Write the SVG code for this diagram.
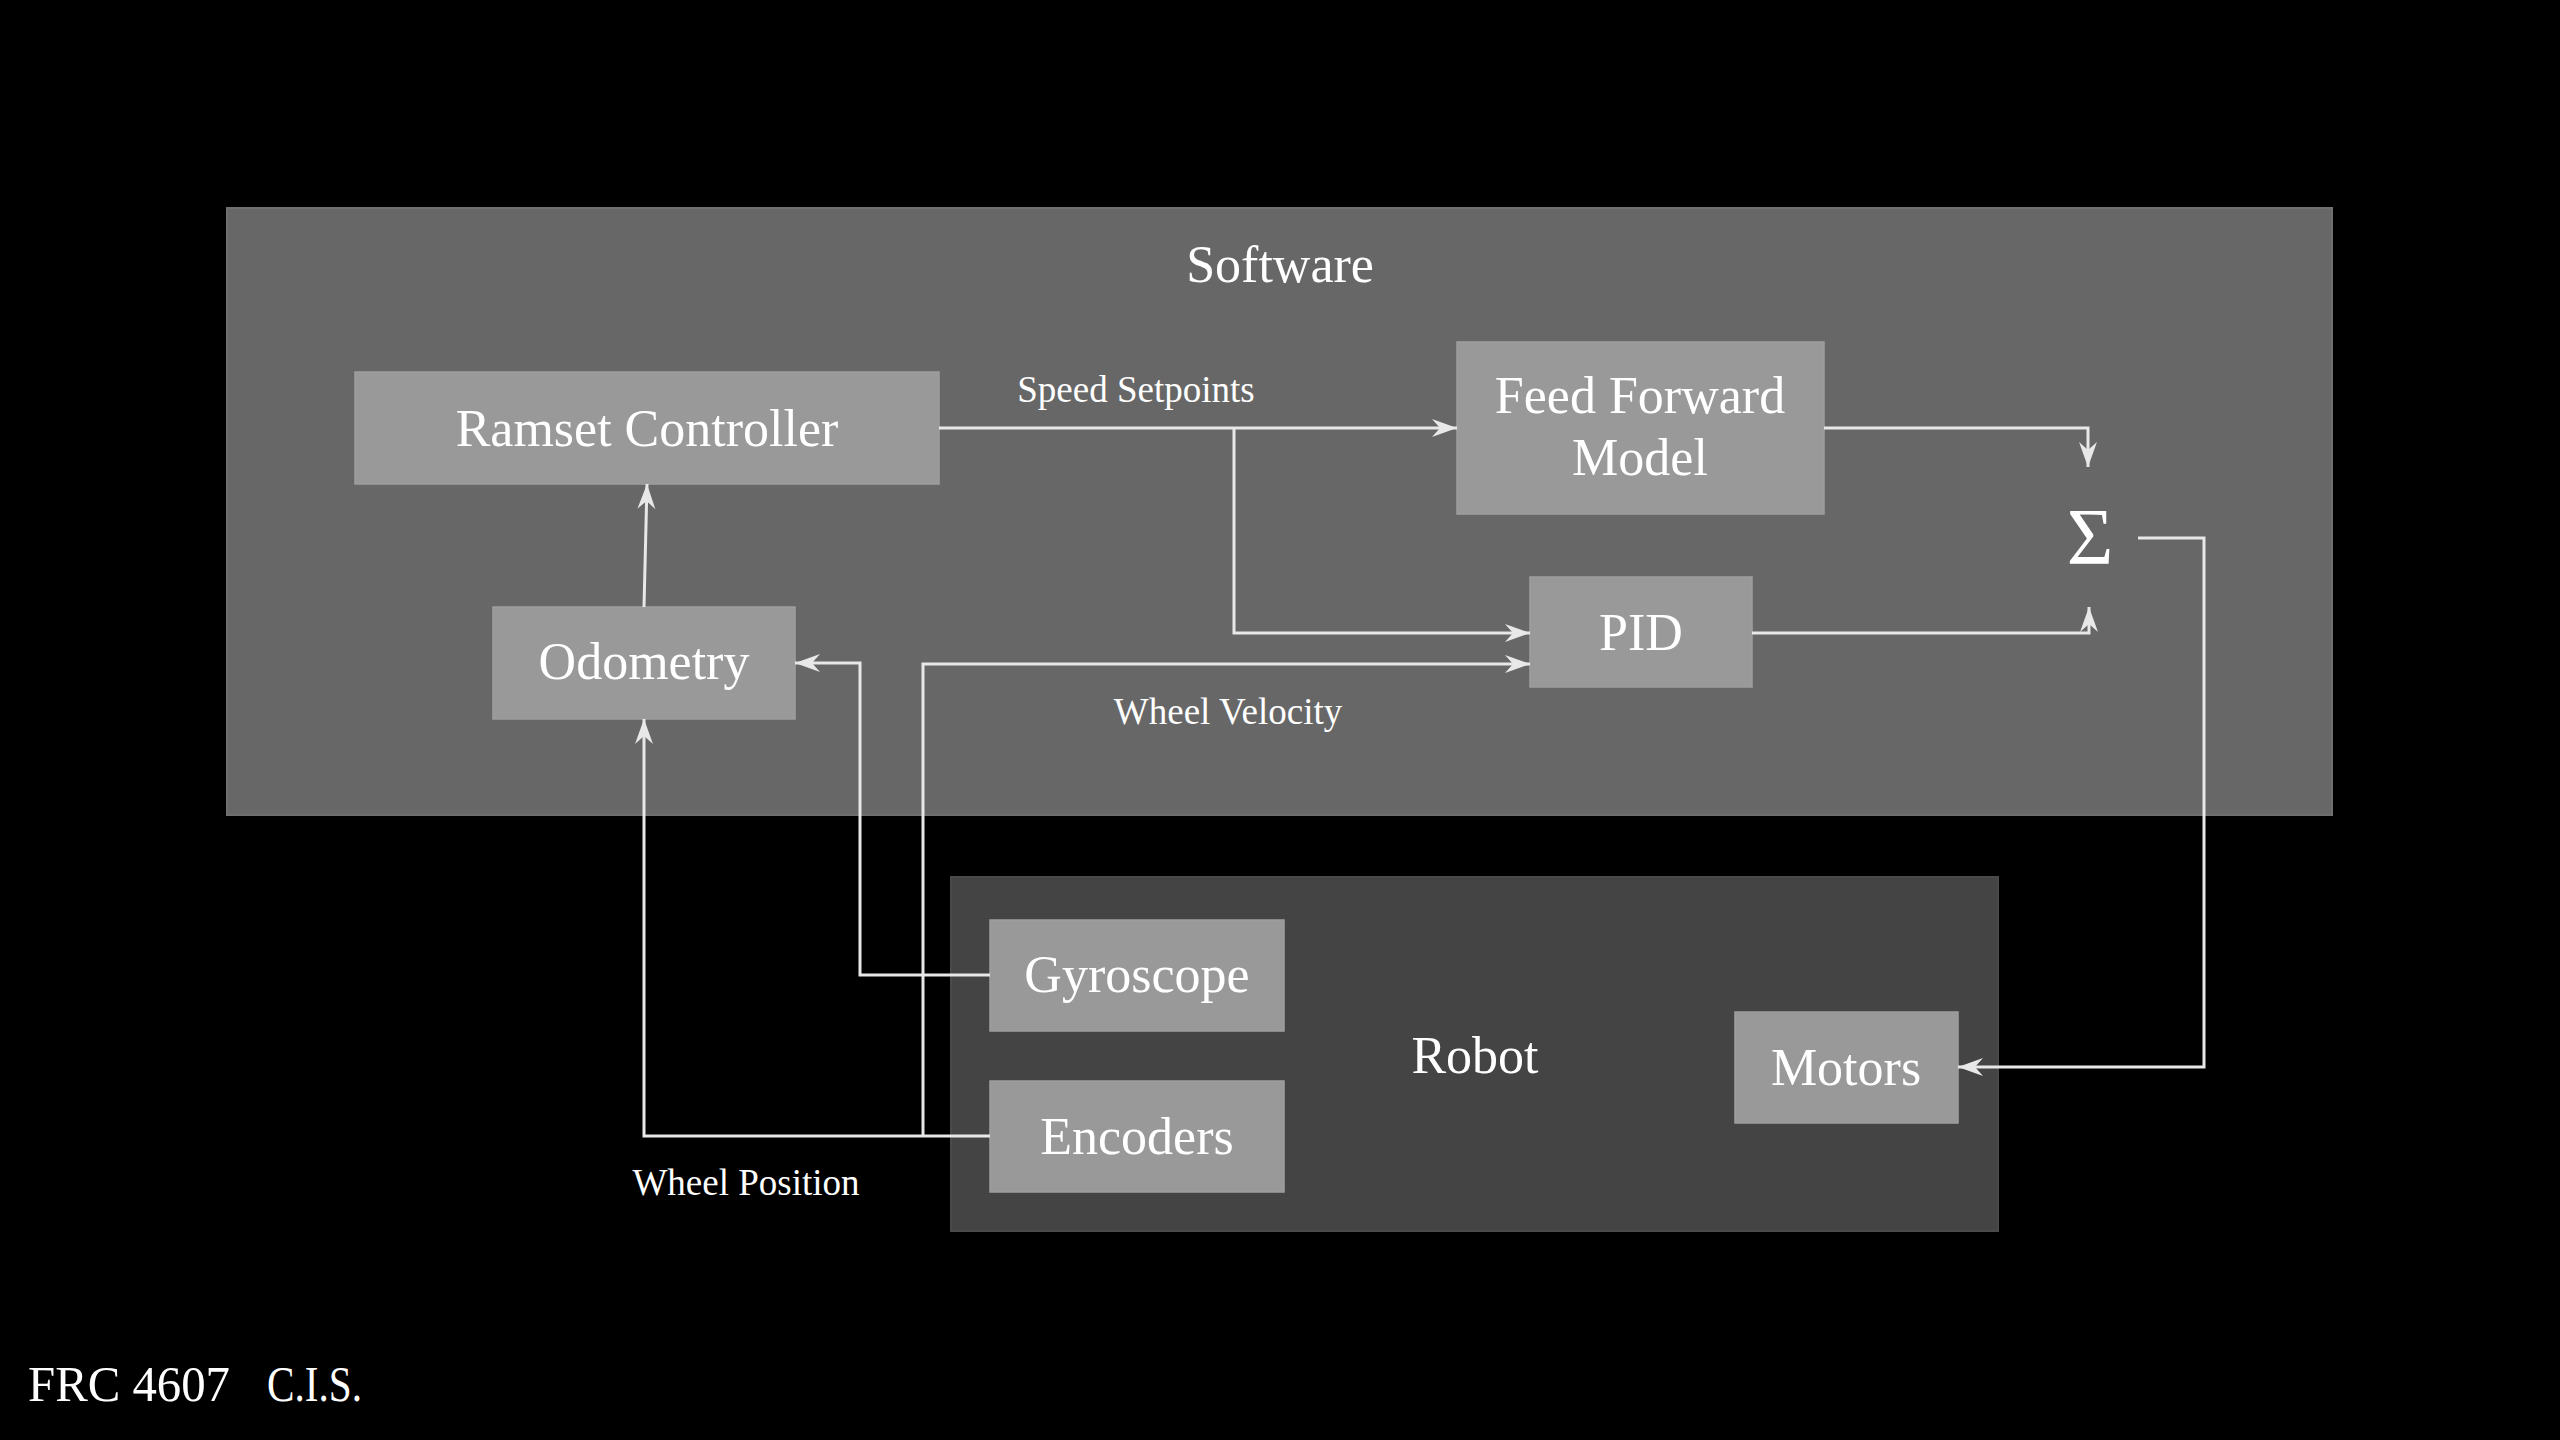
<svg xmlns="http://www.w3.org/2000/svg" width="2560" height="1440" viewBox="0 0 2560 1440">
<defs>
<style>
.bg{fill:#000}
.sw{fill:#676767;stroke:#6f6f6f;stroke-width:2}
.rb{fill:#444444;stroke:#4a4a4a;stroke-width:2}
.nd{fill:#999999;stroke:#9e9e9e;stroke-width:1.5}
text{font-family:"Liberation Serif","DejaVu Serif",serif;fill:#ffffff;text-anchor:middle}
.big{font-size:52px}
.lbl{font-size:37px}
.foot{text-anchor:start;font-size:51px}
.cn{fill:none;stroke:#e8e8e8;stroke-width:3;marker-end:url(#ah)}
</style>
<marker id="ah" viewBox="-26 -10 27 20" refX="0" refY="0" markerWidth="27" markerHeight="20" markerUnits="userSpaceOnUse" orient="auto">
<path d="M0,0 L-25,-9 L-17,0 L-25,9 Z" fill="#e8e8e8"/>
</marker>
</defs>
<rect class="bg" x="0" y="0" width="2560" height="1440"/>
<g id="software">
<rect class="sw" x="227" y="208" width="2105" height="607"/>
<text class="big" x="1280" y="282">Software</text>
</g>
<g id="robot">
<rect class="rb" x="951" y="877" width="1047" height="354"/>
<text class="big" x="1475" y="1073">Robot</text>
</g>
<g id="ramset">
<rect class="nd" x="355" y="372" width="584" height="112"/>
<text class="big" x="647" y="446">Ramset Controller</text>
</g>
<g id="feedforward">
<rect class="nd" x="1457" y="342" width="367" height="172"/>
<text class="big" x="1640" y="413">Feed Forward</text>
<text class="big" x="1640" y="475">Model</text>
</g>
<g id="pid">
<rect class="nd" x="1530" y="577" width="222" height="110"/>
<text class="big" x="1641" y="650">PID</text>
</g>
<g id="sigma">
<text x="2090" y="564" style="font-size:80px">Σ</text>
</g>
<g id="odometry">
<rect class="nd" x="493" y="607" width="302" height="112"/>
<text class="big" x="644" y="679">Odometry</text>
</g>
<g id="gyroscope">
<rect class="nd" x="990" y="920" width="294" height="111"/>
<text class="big" x="1137" y="992">Gyroscope</text>
</g>
<g id="encoders">
<rect class="nd" x="990" y="1081" width="294" height="111"/>
<text class="big" x="1137" y="1154">Encoders</text>
</g>
<g id="motors">
<rect class="nd" x="1735" y="1012" width="223" height="111"/>
<text class="big" x="1846" y="1085">Motors</text>
</g>
<g id="connectors">
<path class="cn" d="M939,428 H1457"/>
<path class="cn" d="M1234,428 V633 H1530"/>
<path class="cn" d="M1824,428 H2088 V467"/>
<path class="cn" d="M1752,633 H2089 V607"/>
<path class="cn" d="M2138,538 H2204 V1067 H1958"/>
<path class="cn" d="M644,607 L647,484"/>
<path class="cn" d="M990,975 H860 V663 H795"/>
<path class="cn" d="M990,1136 H644 V719"/>
<path class="cn" d="M923,1136 V664 H1530"/>
<text class="lbl" x="1136" y="402">Speed Setpoints</text>
<text class="lbl" x="1228" y="724">Wheel Velocity</text>
<text class="lbl" x="746" y="1195">Wheel Position</text>
</g>
<text class="foot" x="28" y="1401"><tspan textLength="202" lengthAdjust="spacingAndGlyphs">FRC 4607</tspan><tspan x="267" textLength="95" lengthAdjust="spacingAndGlyphs">C.I.S.</tspan></text>
</svg>
